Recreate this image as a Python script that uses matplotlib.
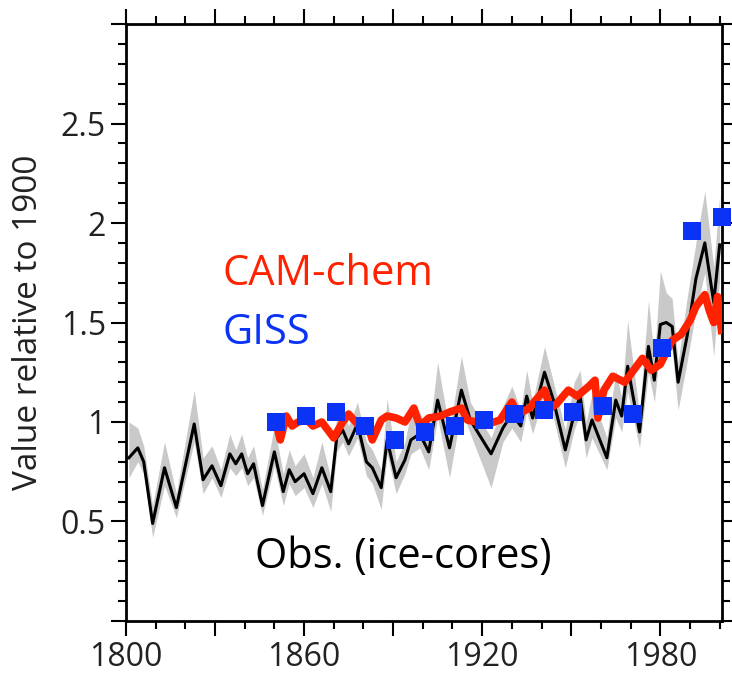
import numpy as np
import matplotlib
matplotlib.use('Agg')
import matplotlib.pyplot as plt
from matplotlib.ticker import MultipleLocator, FuncFormatter

plt.rcParams['font.family'] = ['Open Sans', 'DejaVu Sans']

# ice-core observations (mean and spread)
obs_year = [1801, 1804, 1806, 1809, 1813, 1817, 1823, 1826, 1829, 1832, 1835, 1837,
            1839, 1841, 1843, 1846, 1850, 1853, 1855, 1857, 1860, 1863, 1866, 1869,
            1871, 1873, 1875, 1878, 1881, 1883, 1886, 1888, 1891, 1894, 1896, 1899,
            1902, 1905, 1909, 1913, 1916, 1923, 1927, 1930, 1933, 1935, 1937, 1941,
            1944, 1948, 1951, 1953, 1955, 1957, 1962, 1965, 1967, 1969, 1973, 1976,
            1978, 1980, 1982, 1984, 1986, 1989, 1992, 1995, 1998, 2000]
obs_val = [0.82, 0.87, 0.80, 0.49, 0.77, 0.57, 0.99, 0.71, 0.78, 0.68, 0.84, 0.79,
           0.84, 0.74, 0.79, 0.58, 0.85, 0.65, 0.76, 0.70, 0.74, 0.64, 0.77, 0.65,
           0.92, 0.96, 0.89, 0.99, 0.80, 0.77, 0.67, 0.91, 0.72, 0.81, 0.91, 0.94,
           0.85, 1.11, 0.87, 1.16, 1.01, 0.84, 0.97, 1.04, 0.98, 1.13, 1.02, 1.25,
           1.11, 0.86, 1.04, 1.13, 0.91, 1.01, 0.82, 1.11, 1.03, 1.28, 0.95, 1.38,
           1.21, 1.49, 1.50, 1.48, 1.20, 1.43, 1.72, 1.90, 1.60, 1.89]
obs_hi = [1.00, 0.97, 0.88, 0.58, 0.90, 0.64, 1.16, 0.82, 0.88, 0.76, 0.94, 0.86,
          0.94, 0.82, 0.88, 0.66, 0.98, 0.74, 0.86, 0.78, 0.84, 0.72, 0.90, 0.72,
          1.03, 1.08, 0.98, 1.10, 0.90, 0.86, 0.76, 1.12, 0.80, 0.90, 1.05, 1.05,
          0.92, 1.30, 0.96, 1.33, 1.10, 0.92, 1.08, 1.18, 1.06, 1.26, 1.10, 1.38,
          1.20, 0.96, 1.20, 1.26, 1.00, 1.14, 0.92, 1.26, 1.12, 1.51, 1.04, 1.61,
          1.32, 1.76, 1.65, 1.62, 1.30, 1.62, 1.90, 2.16, 1.78, 2.14]
obs_lo = [0.72, 0.80, 0.74, 0.42, 0.68, 0.52, 0.90, 0.64, 0.72, 0.62, 0.77, 0.73,
          0.77, 0.68, 0.72, 0.53, 0.78, 0.58, 0.69, 0.63, 0.67, 0.57, 0.69, 0.55,
          0.85, 0.90, 0.83, 0.92, 0.73, 0.69, 0.56, 0.84, 0.64, 0.74, 0.84, 0.87,
          0.76, 1.02, 0.72, 1.06, 0.94, 0.67, 0.90, 0.97, 0.90, 1.05, 0.94, 1.15,
          1.02, 0.77, 0.96, 1.04, 0.82, 0.92, 0.76, 1.02, 0.95, 1.15, 0.87, 1.25,
          1.10, 1.38, 1.40, 1.36, 1.06, 1.30, 1.56, 1.75, 1.33, 1.72]

# CAM-chem model
cam_year = [1851, 1852, 1854, 1856, 1858, 1861, 1863, 1866, 1868, 1870, 1873, 1875,
            1878, 1880, 1882, 1883, 1886, 1888, 1891, 1894, 1897, 1899, 1902, 1906,
            1909, 1913, 1915, 1918, 1922, 1926, 1930, 1932, 1936, 1938, 1941, 1943,
            1945, 1949, 1952, 1956, 1958, 1959, 1961, 1964, 1968, 1971, 1974, 1977,
            1980, 1984, 1987, 1990, 1992, 1995, 1996.5, 1998, 1999.3, 2000.6]
cam_val = [0.97, 0.91, 1.03, 0.98, 1.00, 1.01, 0.98, 1.00, 0.96, 0.92, 1.00, 1.04,
           0.99, 1.00, 0.96, 0.91, 1.01, 1.03, 1.02, 1.00, 1.07, 0.98, 1.02, 1.03,
           1.05, 1.07, 1.01, 1.00, 0.99, 1.01, 1.10, 1.04, 1.07, 1.11, 1.16, 1.07,
           1.09, 1.16, 1.13, 1.18, 1.21, 1.02, 1.16, 1.23, 1.20, 1.26, 1.32, 1.26,
           1.29, 1.41, 1.44, 1.51, 1.58, 1.64, 1.56, 1.50, 1.63, 1.46]

# GISS model, decadal
giss_year = [1850, 1860, 1870, 1880, 1890, 1900, 1910, 1920, 1930, 1940, 1950,
             1960, 1970, 1980, 1990, 2000]
giss_val = [1.00, 1.03, 1.05, 0.98, 0.91, 0.95, 0.98, 1.01, 1.04, 1.06, 1.05,
            1.08, 1.04, 1.37, 1.96, 2.03]

fig = plt.figure(figsize=(7.32, 6.73), dpi=100)
ax = fig.add_axes([0.172, 0.0773, 0.814, 0.8870])

ax.fill_between(obs_year, obs_lo, obs_hi, color='#C9C9C9', lw=0, zorder=1)
ax.plot(obs_year, obs_val, color='black', lw=2.2, zorder=2)
ax.plot(cam_year, cam_val, color='#FF2200', lw=5.5, zorder=3, solid_joinstyle='round')
ax.scatter(np.array(giss_year) + 0.7, giss_val, marker='s', s=175, color='#0A33F5',
           lw=0, zorder=4, clip_on=False)

ax.text(1832.4, 1.686, 'CAM-chem', color='#FF2200', fontsize=30, va='baseline')
ax.text(1832.4, 1.39, 'GISS', color='#0A33F5', fontsize=30, va='baseline')
ax.text(1843.5, 0.266, 'Obs. (ice-cores)', color='black', fontsize=30, va='baseline')

ax.set_xlim(1800, 2000.7)
ax.set_ylim(0, 3)

ax.xaxis.set_major_locator(MultipleLocator(30))
ax.xaxis.set_minor_locator(MultipleLocator(10))
ax.yaxis.set_major_locator(MultipleLocator(0.5))
ax.yaxis.set_minor_locator(MultipleLocator(0.1))
ax.xaxis.set_major_formatter(FuncFormatter(lambda v, p: f'{int(v)}' if int(v) % 60 == 0 else ''))
ax.yaxis.set_major_formatter(FuncFormatter(lambda v, p: f'{v:g}' if 0 < v < 3 else ''))

ax.tick_params(which='both', direction='out', top=True, right=True,
               labelsize=23, labelcolor='#222222', width=1.5, pad=4)
ax.tick_params(which='major', length=10.5)
ax.tick_params(which='minor', length=5.5)
for s in ax.spines.values():
    s.set_linewidth(2.0)

ax.set_ylabel('Value relative to 1900', fontsize=24, color='#222222')
ax.yaxis.set_label_coords(-0.136, 0.5)

fig.savefig('out.png', dpi=100)
